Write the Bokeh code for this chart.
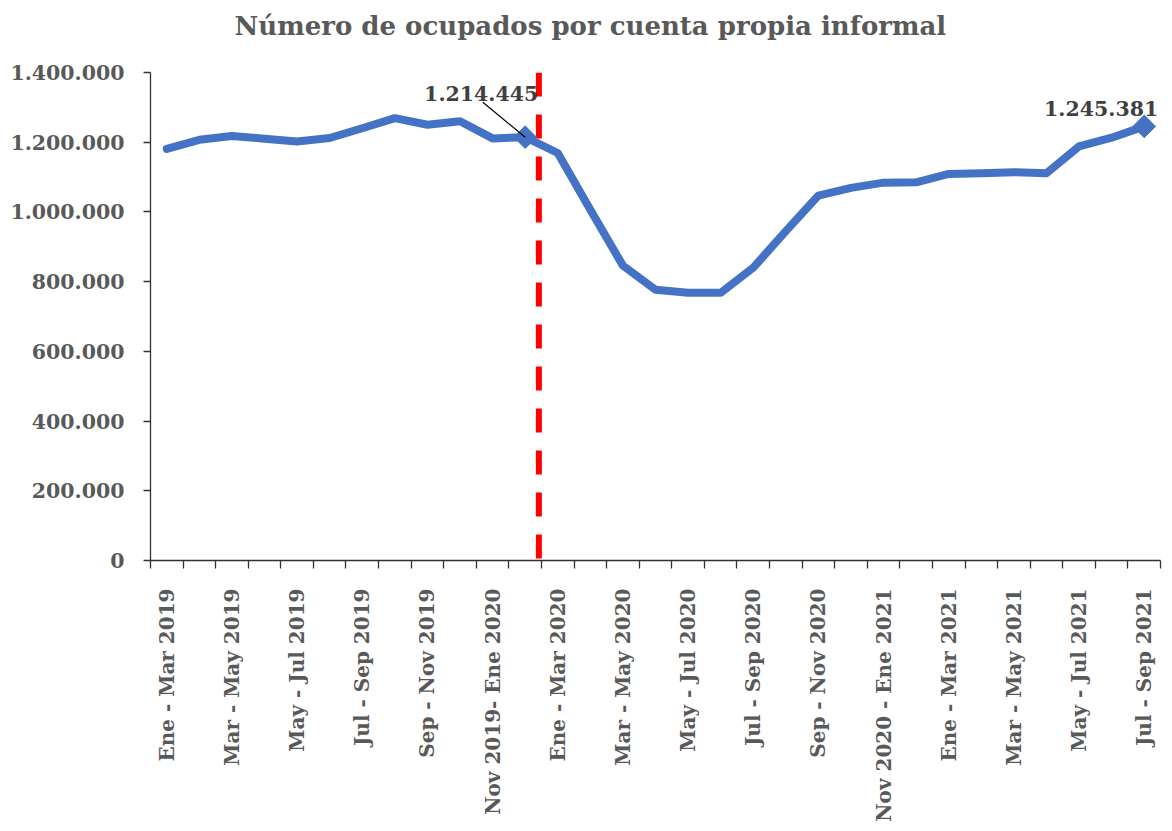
import math
from bokeh.plotting import figure
from bokeh.models import (Range1d, FixedTicker, CustomJSTickFormatter, Span,
                          Label, ColumnDataSource, Title)
from bokeh.embed import file_html
from bokeh.resources import INLINE

categories = [
    "Ene - Mar 2019", "Feb - Abr 2019", "Mar - May 2019", "Abr - Jun 2019",
    "May - Jul 2019", "Jun - Ago 2019", "Jul - Sep 2019", "Ago - Oct 2019",
    "Sep - Nov 2019", "Oct - Dic 2019", "Nov 2019- Ene 2020", "Dic 2019 - Feb 2020",
    "Ene - Mar 2020", "Feb - Abr 2020", "Mar - May 2020", "Abr - Jun 2020",
    "May - Jul 2020", "Jun - Ago 2020", "Jul - Sep 2020", "Ago - Oct 2020",
    "Sep - Nov 2020", "Oct - Dic 2020", "Nov 2020 - Ene 2021", "Dic 2020 - Feb 2021",
    "Ene - Mar 2021", "Feb - Abr 2021", "Mar - May 2021", "Abr - Jun 2021",
    "May - Jul 2021", "Jun - Ago 2021", "Jul - Sep 2021",
]
ocupados = [
    1181000, 1207000, 1218000, 1210000, 1202000, 1212000, 1240000, 1269000,
    1250000, 1260000, 1211000, 1214445, 1169000, 1006000, 846000, 777000,
    768000, 768000, 840000, 945000, 1047000, 1069000, 1084000, 1085000,
    1109000, 1111000, 1114000, 1111000, 1188000, 1213000, 1245381,
]
y_ticks = [0, 200000, 400000, 600000, 800000, 1000000, 1200000, 1400000]
title_text = "Número de ocupados por cuenta propia informal"
shown_label_every = 2
highlight_idx = [11, 30]
break_position = 11.92  # boundary before "Ene - Mar 2020"

FONT = "DejaVu Serif"
TXT = "#595959"
AX = "#333333"
BLUE = "#4472C4"

x = [i + 0.5 for i in range(len(categories))]
y_max = y_ticks[-1]

p = figure(width=1166, height=824, output_backend="svg", toolbar_location=None,
           x_range=Range1d(0, len(categories)), y_range=Range1d(0, y_max),
           min_border_left=150, min_border_right=6, min_border_top=72,
           min_border_bottom=263)
p.outline_line_color = None
p.xgrid.visible = False
p.ygrid.visible = False
p.background_fill_color = "white"
p.border_fill_color = "white"

# spacer panel between frame and title, then the title itself (outermost)
p.add_layout(Title(text=" ", text_font_size="1px", standoff=25), "above")
p.add_layout(Title(text=title_text, align="left", offset=84, vertical_align="top",
                   standoff=4, text_font=FONT, text_font_size="26px",
                   text_font_style="bold", text_color=TXT), "above")

# y axis
yax = p.yaxis[0]
yax.ticker = FixedTicker(ticks=y_ticks, minor_ticks=[])
yax.major_label_overrides = {v: f"{v:,}".replace(",", ".") for v in y_ticks}
yax.major_label_text_font = FONT
yax.major_label_text_font_size = "20.5px"
yax.major_label_text_font_style = "bold"
yax.major_label_text_color = TXT
yax.axis_line_color = AX
yax.major_tick_line_color = AX
yax.major_tick_out = 7
yax.major_tick_in = 0
yax.minor_tick_line_color = None
yax.major_label_standoff = 19
yax.axis_line_width = 1.3
yax.major_tick_line_width = 1.3

# x axis
xax = p.xaxis[0]
major = [i + 0.5 for i in range(0, len(categories), shown_label_every)]
xax.ticker = FixedTicker(ticks=major, minor_ticks=list(range(len(categories) + 1)))
xax.formatter = CustomJSTickFormatter(args=dict(labels=categories),
                                      code="return labels[Math.floor(tick)];")
xax.major_label_orientation = math.pi / 2
xax.major_label_text_font = FONT
xax.major_label_text_font_size = "20px"
xax.major_label_text_font_style = "bold"
xax.major_label_text_color = TXT
xax.axis_line_color = AX
xax.axis_line_width = 1.3
xax.major_tick_out = 0
xax.major_tick_in = 0
xax.minor_tick_out = 8
xax.minor_tick_in = 0
xax.minor_tick_line_color = AX
xax.minor_tick_line_width = 1.3
xax.major_label_standoff = 20

# vertical break line
span = Span(location=break_position, dimension="height", line_color="#FF0000",
            line_width=6, line_dash="24 18", level="underlay")
p.add_layout(span)

src = ColumnDataSource(dict(x=x, y=ocupados))
p.line("x", "y", source=src, line_color=BLUE, line_width=8,
       line_cap="round", line_join="round")

hx = [x[i] for i in highlight_idx]
hy = [ocupados[i] for i in highlight_idx]
p.scatter(hx, hy, marker="square", angle=math.pi / 4, size=16,
          fill_color=BLUE, line_color=BLUE)

# annotation leader line for the pre-pandemic point
i0 = highlight_idx[0]
seg = ColumnDataSource(dict(x0=[x[i0] - 1.3], y0=[ocupados[i0] + 100000],
                            x1=[x[i0]], y1=[ocupados[i0]]))
p.segment("x0", "y0", "x1", "y1", source=seg, line_color="black", line_width=1.2)

def fmt(v):
    return f"{v:,}".replace(",", ".")

p.add_layout(Label(x=x[i0], y=ocupados[i0], text=fmt(ocupados[i0]),
                   x_offset=-44, y_offset=44, text_align="center",
                   text_baseline="alphabetic", text_font=FONT,
                   text_font_size="20.5px", text_font_style="bold",
                   text_color="#404040"))
i1 = highlight_idx[1]
p.add_layout(Label(x=x[i1], y=ocupados[i1], text=fmt(ocupados[i1]),
                   x_offset=14, y_offset=18, text_align="right",
                   text_baseline="alphabetic", text_font=FONT,
                   text_font_size="20.5px", text_font_style="bold",
                   text_color="#404040"))

open("out.html", "w").write(file_html(p, INLINE))
